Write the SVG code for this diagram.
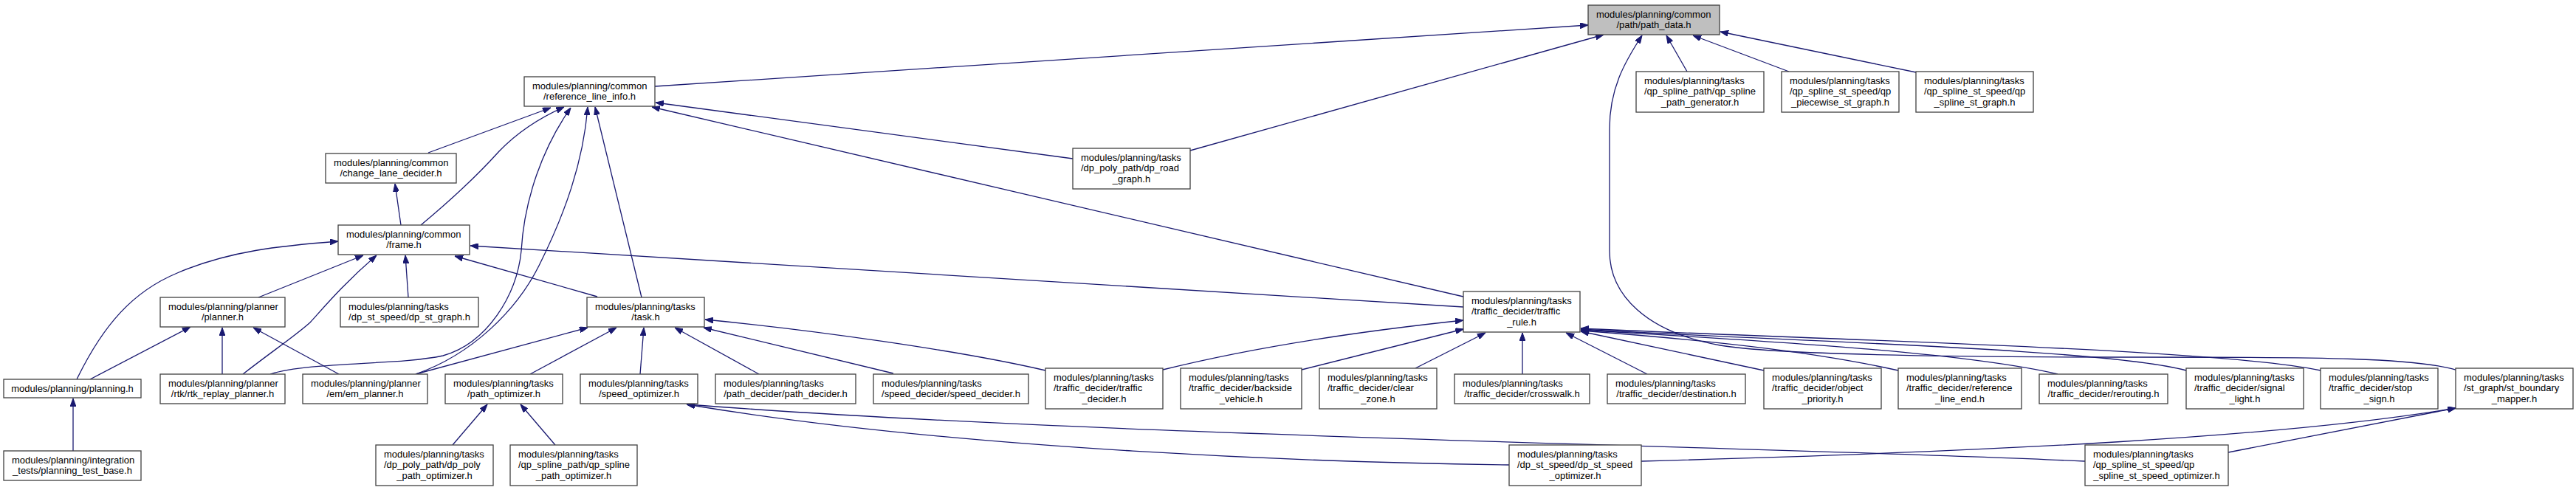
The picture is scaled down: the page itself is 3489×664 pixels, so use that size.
<svg xmlns="http://www.w3.org/2000/svg" width="3489" height="664" viewBox="0 0 3489 664">
<style>
text{font-family:"Liberation Sans",Arial,sans-serif;font-size:13px;fill:#000}
.l{text-anchor:start}
.c{text-anchor:middle}
.node rect{fill:#fff;stroke:#404040;stroke-width:1.3}
#n_path_data rect{fill:#bfbfbf}
#edges path{fill:none;stroke:#191970;stroke-width:1.3;marker-end:url(#arr)}
</style>
<defs>
<marker id="arr" viewBox="0 0 11 8" refX="11" refY="4" markerWidth="11" markerHeight="8" markerUnits="userSpaceOnUse" orient="auto">
<path d="M0,0 L11,4 L0,8 z" fill="#191970" stroke="#191970" stroke-width="1"/>
</marker>
</defs>
<rect x="0" y="0" width="3489" height="664" fill="#fff"/>
<g id="edges">
<path d="M887,117 L2151,34"/>
<path d="M1612,204 L2172,47"/>
<path d="M1453,215 L888,139"/>
<path d="M1982,402 L883,145"/>
<path d="M2285,97 L2257,48"/>
<path d="M2423,97 L2293,48"/>
<path d="M2595,98 L2330,43"/>
<path d="M3326,501 C3270,485 3150,484 2900,484 C2600,484 2400,480 2330,468 C2230,450 2180,400 2180,340 L2180,175 C2180,120 2200,85 2224,48"/>
<path d="M570,305 C600,280 640,245 676,205 C700,180 730,160 764,145"/>
<path d="M580,207 L746,146"/>
<path d="M543,305 L535,249"/>
<path d="M366,507 C420,490 540,495 600,482 C660,465 700,400 706,340 C710,270 735,200 773,146"/>
<path d="M563,507 C640,480 700,420 730,360 C765,290 790,220 796,145"/>
<path d="M869,403 L806,145"/>
<path d="M809,402 L616,347"/>
<path d="M1982,416 L637,333"/>
<path d="M553,403 L549,346"/>
<path d="M350,403 L492,346"/>
<path d="M329,507 C370,475 400,455 420,437 C440,415 465,385 510,346"/>
<path d="M104,514 C140,440 180,395 240,370 C310,340 380,333 458,327"/>
<path d="M122,514 L258,443"/>
<path d="M301,507 L301,444"/>
<path d="M459,507 L343,444"/>
<path d="M99,611 L99,540"/>
<path d="M563,507 L796,444"/>
<path d="M718,507 L835,444"/>
<path d="M867,507 L872,444"/>
<path d="M1028,507 L914,444"/>
<path d="M1210,506 L953,444"/>
<path d="M1416,502 C1300,475 1100,447 955,433"/>
<path d="M613,603 L660,548"/>
<path d="M752,603 L705,548"/>
<path d="M2044,630 C1800,627 1300,610 930,548"/>
<path d="M2824,625 C2400,605 1500,592 930,548"/>
<path d="M2223,625 C2700,612 3100,592 3326,553"/>
<path d="M3018,613 L3326,553"/>
<path d="M1575,501 C1700,470 1850,448 1982,434"/>
<path d="M1763,501 L1982,446"/>
<path d="M1917,499 L2012,451"/>
<path d="M2062,507 L2062,451"/>
<path d="M2231,507 L2121,451"/>
<path d="M2389,502 L2141,449"/>
<path d="M2571,502 C2450,475 2300,460 2141,448"/>
<path d="M2787,507 C2650,475 2350,460 2141,447"/>
<path d="M2961,502 C2850,472 2400,462 2141,446"/>
<path d="M3143,502 C3000,472 2450,460 2141,445"/>
</g>
<g id="n_path_data" class="node"><rect x="2151" y="7" width="178" height="40"/><text class="l" x="2162" y="23.5">modules/planning/common</text><text class="c" x="2240" y="38">/path/path_data.h</text></g>
<g id="n_reference_line_info" class="node"><rect x="710" y="104" width="177" height="40"/><text class="l" x="721" y="120.5">modules/planning/common</text><text class="c" x="798.5" y="135">/reference_line_info.h</text></g>
<g id="n_qp_spline_path_generator" class="node"><rect x="2216" y="97" width="173" height="55"/><text class="l" x="2227" y="113.5">modules/planning/tasks</text><text class="l" x="2227" y="128">/qp_spline_path/qp_spline</text><text class="c" x="2302.5" y="142.5">_path_generator.h</text></g>
<g id="n_qp_piecewise_st_graph" class="node"><rect x="2413" y="97" width="159" height="55"/><text class="l" x="2424" y="113.5">modules/planning/tasks</text><text class="l" x="2424" y="128">/qp_spline_st_speed/qp</text><text class="c" x="2492.5" y="142.5">_piecewise_st_graph.h</text></g>
<g id="n_qp_spline_st_graph" class="node"><rect x="2595" y="97" width="159" height="55"/><text class="l" x="2606" y="113.5">modules/planning/tasks</text><text class="l" x="2606" y="128">/qp_spline_st_speed/qp</text><text class="c" x="2674.5" y="142.5">_spline_st_graph.h</text></g>
<g id="n_change_lane_decider" class="node"><rect x="441" y="208" width="177" height="40"/><text class="l" x="452" y="224.5">modules/planning/common</text><text class="c" x="529.5" y="239">/change_lane_decider.h</text></g>
<g id="n_dp_road_graph" class="node"><rect x="1453" y="201" width="159" height="55"/><text class="l" x="1464" y="217.5">modules/planning/tasks</text><text class="l" x="1464" y="232">/dp_poly_path/dp_road</text><text class="c" x="1532.5" y="246.5">_graph.h</text></g>
<g id="n_frame" class="node"><rect x="458" y="305" width="178" height="40"/><text class="l" x="469" y="321.5">modules/planning/common</text><text class="c" x="547" y="336">/frame.h</text></g>
<g id="n_planner" class="node"><rect x="217" y="403" width="169" height="40"/><text class="l" x="228" y="419.5">modules/planning/planner</text><text class="c" x="301.5" y="434">/planner.h</text></g>
<g id="n_dp_st_graph" class="node"><rect x="461" y="403" width="187" height="40"/><text class="l" x="472" y="419.5">modules/planning/tasks</text><text class="c" x="554.5" y="434">/dp_st_speed/dp_st_graph.h</text></g>
<g id="n_task" class="node"><rect x="795" y="403" width="159" height="40"/><text class="l" x="806" y="419.5">modules/planning/tasks</text><text class="c" x="874.5" y="434">/task.h</text></g>
<g id="n_traffic_rule" class="node"><rect x="1982" y="395" width="158" height="55"/><text class="l" x="1993" y="411.5">modules/planning/tasks</text><text class="l" x="1993" y="426">/traffic_decider/traffic</text><text class="c" x="2061" y="440.5">_rule.h</text></g>
<g id="n_planning" class="node"><rect x="5" y="514" width="186" height="25"/><text class="c" x="98" y="530.5">modules/planning/planning.h</text></g>
<g id="n_rtk_replay_planner" class="node"><rect x="217" y="507" width="169" height="40"/><text class="l" x="228" y="523.5">modules/planning/planner</text><text class="c" x="301.5" y="538">/rtk/rtk_replay_planner.h</text></g>
<g id="n_em_planner" class="node"><rect x="410" y="507" width="169" height="40"/><text class="l" x="421" y="523.5">modules/planning/planner</text><text class="c" x="494.5" y="538">/em/em_planner.h</text></g>
<g id="n_path_optimizer" class="node"><rect x="603" y="507" width="159" height="40"/><text class="l" x="614" y="523.5">modules/planning/tasks</text><text class="c" x="682.5" y="538">/path_optimizer.h</text></g>
<g id="n_speed_optimizer" class="node"><rect x="786" y="507" width="159" height="40"/><text class="l" x="797" y="523.5">modules/planning/tasks</text><text class="c" x="865.5" y="538">/speed_optimizer.h</text></g>
<g id="n_path_decider" class="node"><rect x="969" y="507" width="190" height="40"/><text class="l" x="980" y="523.5">modules/planning/tasks</text><text class="c" x="1064" y="538">/path_decider/path_decider.h</text></g>
<g id="n_speed_decider" class="node"><rect x="1183" y="507" width="210" height="40"/><text class="l" x="1194" y="523.5">modules/planning/tasks</text><text class="c" x="1288" y="538">/speed_decider/speed_decider.h</text></g>
<g id="n_traffic_decider" class="node"><rect x="1416" y="499" width="159" height="55"/><text class="l" x="1427" y="515.5">modules/planning/tasks</text><text class="l" x="1427" y="530">/traffic_decider/traffic</text><text class="c" x="1495.5" y="544.5">_decider.h</text></g>
<g id="n_backside_vehicle" class="node"><rect x="1599" y="499" width="164" height="55"/><text class="l" x="1610" y="515.5">modules/planning/tasks</text><text class="l" x="1610" y="530">/traffic_decider/backside</text><text class="c" x="1681" y="544.5">_vehicle.h</text></g>
<g id="n_clear_zone" class="node"><rect x="1787" y="499" width="159" height="55"/><text class="l" x="1798" y="515.5">modules/planning/tasks</text><text class="l" x="1798" y="530">/traffic_decider/clear</text><text class="c" x="1866.5" y="544.5">_zone.h</text></g>
<g id="n_crosswalk" class="node"><rect x="1970" y="507" width="183" height="40"/><text class="l" x="1981" y="523.5">modules/planning/tasks</text><text class="c" x="2061.5" y="538">/traffic_decider/crosswalk.h</text></g>
<g id="n_destination" class="node"><rect x="2177" y="507" width="187" height="40"/><text class="l" x="2188" y="523.5">modules/planning/tasks</text><text class="c" x="2270.5" y="538">/traffic_decider/destination.h</text></g>
<g id="n_object_priority" class="node"><rect x="2389" y="499" width="159" height="55"/><text class="l" x="2400" y="515.5">modules/planning/tasks</text><text class="l" x="2400" y="530">/traffic_decider/object</text><text class="c" x="2468.5" y="544.5">_priority.h</text></g>
<g id="n_reference_line_end" class="node"><rect x="2571" y="499" width="167" height="55"/><text class="l" x="2582" y="515.5">modules/planning/tasks</text><text class="l" x="2582" y="530">/traffic_decider/reference</text><text class="c" x="2654.5" y="544.5">_line_end.h</text></g>
<g id="n_rerouting" class="node"><rect x="2762" y="507" width="174" height="40"/><text class="l" x="2773" y="523.5">modules/planning/tasks</text><text class="c" x="2849" y="538">/traffic_decider/rerouting.h</text></g>
<g id="n_signal_light" class="node"><rect x="2961" y="499" width="159" height="55"/><text class="l" x="2972" y="515.5">modules/planning/tasks</text><text class="l" x="2972" y="530">/traffic_decider/signal</text><text class="c" x="3040.5" y="544.5">_light.h</text></g>
<g id="n_stop_sign" class="node"><rect x="3143" y="499" width="159" height="55"/><text class="l" x="3154" y="515.5">modules/planning/tasks</text><text class="l" x="3154" y="530">/traffic_decider/stop</text><text class="c" x="3222.5" y="544.5">_sign.h</text></g>
<g id="n_st_boundary_mapper" class="node"><rect x="3326" y="499" width="159" height="55"/><text class="l" x="3337" y="515.5">modules/planning/tasks</text><text class="l" x="3337" y="530">/st_graph/st_boundary</text><text class="c" x="3405.5" y="544.5">_mapper.h</text></g>
<g id="n_planning_test_base" class="node"><rect x="5" y="611" width="186" height="40"/><text class="l" x="16" y="627.5">modules/planning/integration</text><text class="c" x="98" y="642">_tests/planning_test_base.h</text></g>
<g id="n_dp_poly_path_optimizer" class="node"><rect x="509" y="603" width="159" height="55"/><text class="l" x="520" y="619.5">modules/planning/tasks</text><text class="l" x="520" y="634">/dp_poly_path/dp_poly</text><text class="c" x="588.5" y="648.5">_path_optimizer.h</text></g>
<g id="n_qp_spline_path_optimizer" class="node"><rect x="691" y="603" width="172" height="55"/><text class="l" x="702" y="619.5">modules/planning/tasks</text><text class="l" x="702" y="634">/qp_spline_path/qp_spline</text><text class="c" x="777" y="648.5">_path_optimizer.h</text></g>
<g id="n_dp_st_speed_optimizer" class="node"><rect x="2044" y="603" width="179" height="55"/><text class="l" x="2055" y="619.5">modules/planning/tasks</text><text class="l" x="2055" y="634">/dp_st_speed/dp_st_speed</text><text class="c" x="2133.5" y="648.5">_optimizer.h</text></g>
<g id="n_qp_spline_st_speed_optimizer" class="node"><rect x="2824" y="603" width="194" height="55"/><text class="l" x="2835" y="619.5">modules/planning/tasks</text><text class="l" x="2835" y="634">/qp_spline_st_speed/qp</text><text class="c" x="2921" y="648.5">_spline_st_speed_optimizer.h</text></g>
</svg>
